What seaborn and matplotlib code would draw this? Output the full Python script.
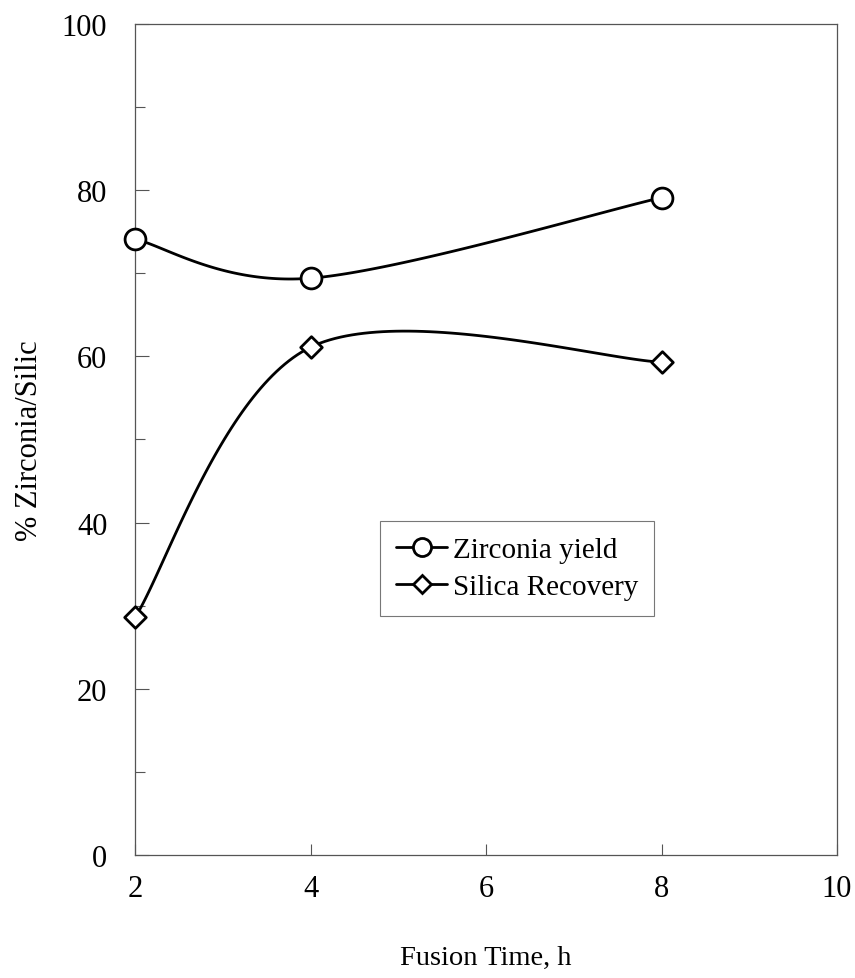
import numpy as np
import pandas as pd
import seaborn as sns
import matplotlib
matplotlib.use("Agg")
import matplotlib.pyplot as plt
from matplotlib.lines import Line2D
from matplotlib.ticker import MultipleLocator

# ---- data ----
fusion_time = [2, 4, 8]
zirconia_yield = [74.1, 69.4, 79.1]
silica_recovery = [28.6, 61.1, 59.3]
series_names = ["Zirconia yield", "Silica Recovery"]
x_ticks = [2, 4, 6, 8, 10]
y_ticks = [0, 20, 40, 60, 80, 100]


def smooth(xs, ys, n=60):
    """Excel-style smoothed line (Catmull-Rom Bezier, factor 1/6)."""
    P = np.column_stack([xs, ys]).astype(float)
    ext = np.vstack([P[0], P, P[-1]])
    out = []
    t = np.linspace(0, 1, n)[:, None]
    for i in range(len(P) - 1):
        p0, p1, p2, p3 = ext[i], ext[i + 1], ext[i + 2], ext[i + 3]
        c1 = p1 + (p2 - p0) / 6.0
        c2 = p2 - (p3 - p1) / 6.0
        seg = ((1 - t) ** 3) * p1 + 3 * ((1 - t) ** 2) * t * c1 + 3 * (1 - t) * t ** 2 * c2 + t ** 3 * p2
        out.append(seg if i == 0 else seg[1:])
    s = np.vstack(out)
    return s[:, 0], s[:, 1]


sns.set_theme(style="white")
plt.rcParams["font.family"] = ["Liberation Serif", "DejaVu Serif"]
plt.rcParams["text.color"] = "black"
plt.rcParams["axes.labelcolor"] = "black"
plt.rcParams["xtick.color"] = "black"
plt.rcParams["ytick.color"] = "black"

fig = plt.figure(figsize=(8.55, 9.79), dpi=100)
ax = fig.add_axes([0.158, 0.1256, 0.821, 0.849])

markers = ["o", "D"]
msizes = [15, 11]
for name, vals, mk, ms in zip(series_names, [zirconia_yield, silica_recovery], markers, msizes):
    sx, sy = smooth(fusion_time, vals)
    curve = pd.DataFrame({"x": sx, "y": sy})
    sns.lineplot(data=curve, x="x", y="y", sort=False, color="black", linewidth=2.0, ax=ax)
    pts = pd.DataFrame({"x": fusion_time, "y": vals})
    sns.scatterplot(data=pts, x="x", y="y", marker=mk, s=ms ** 2, facecolor="white",
                    edgecolor="black", linewidth=2.0, ax=ax, zorder=5)
for coll in ax.collections:
    coll.set_clip_on(False)
for ln in ax.lines:
    ln.set_clip_on(False)

ax.set_xlim(2, 10)
ax.set_ylim(0, 100)
ax.set_xticks(x_ticks)
ax.set_yticks(y_ticks)
ax.yaxis.set_minor_locator(MultipleLocator(10))
ax.tick_params(axis="both", which="both", direction="in", color="#555555", width=0.8)
ax.tick_params(axis="y", which="major", length=10, pad=20, labelsize=22, left=True)
ax.tick_params(axis="y", which="minor", length=7, left=True)
ax.tick_params(axis="x", which="major", length=8, pad=14, labelsize=22, bottom=True)
for sp in ax.spines.values():
    sp.set_color("#555555")
    sp.set_linewidth(0.9)

ax.set_xlabel("Fusion Time, h", fontsize=20.5, labelpad=30)
ax.set_ylabel("% Zirconia/Silic", fontsize=22, labelpad=13)

handles = [
    Line2D([], [], color="black", linewidth=2.0, marker="o", markersize=13,
           markerfacecolor="white", markeredgecolor="black", markeredgewidth=2.0),
    Line2D([], [], color="black", linewidth=2.0, marker="D", markersize=9,
           markerfacecolor="white", markeredgecolor="black", markeredgewidth=2.0),
]
leg = ax.legend(handles, series_names, loc="lower left", bbox_to_anchor=(0.349, 0.2876),
                fontsize=21, frameon=True, fancybox=False, framealpha=1,
                handlelength=1.75, handletextpad=0.2, borderpad=0.55, labelspacing=0.35,
                borderaxespad=0)
leg.get_frame().set_edgecolor("#777777")
leg.get_frame().set_linewidth(0.8)

fig.savefig("out.png", dpi=100)
